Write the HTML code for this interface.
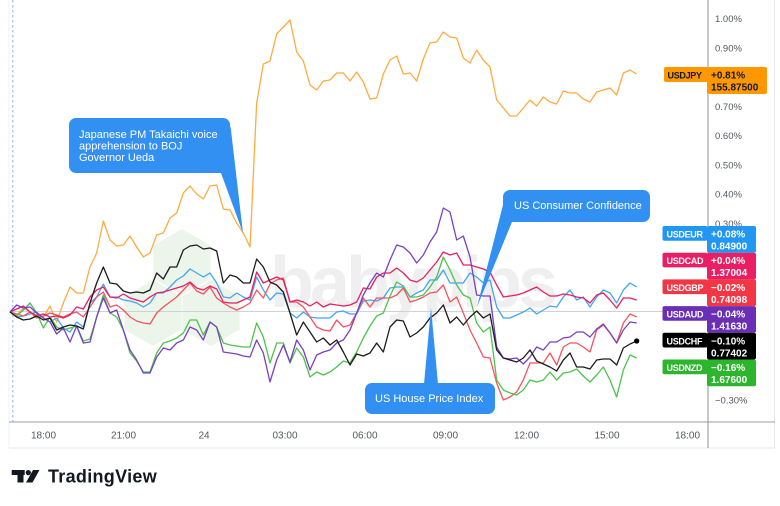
<!DOCTYPE html>
<html><head><meta charset="utf-8"><style>
html,body{margin:0;padding:0;background:#fff;width:780px;height:506px;overflow:hidden}
svg{display:block}
text{font-family:"Liberation Sans",sans-serif}
</style></head><body>
<svg width="780" height="506" viewBox="0 0 780 506" xmlns="http://www.w3.org/2000/svg">
<rect width="780" height="506" fill="#fff"/>
<!-- chart frame -->
<line x1="9" y1="448" x2="775" y2="448" stroke="#e6e8ee"/>
<line x1="774.5" y1="0" x2="774.5" y2="448" stroke="#e6e8ee"/>
<line x1="9" y1="0" x2="9" y2="448" stroke="#eef0f4"/>
<!-- watermark -->
<g fill="#ecf5ea">
<polygon points="182,229 210.6,245.5 210.6,278.5 182,295 153.4,278.5 153.4,245.5"/>
<polygon points="153,280 181.6,296.5 181.6,329.5 153,346 124.4,329.5 124.4,296.5"/>
<polygon points="211,280 239.6,296.5 239.6,329.5 211,346 182.4,329.5 182.4,296.5"/>
</g>
<text x="270" y="307" font-size="72" font-weight="bold" letter-spacing="-4" fill="#efefef">babypips</text>
<!-- zero line -->
<line x1="10" y1="311.5" x2="708" y2="311.5" stroke="#cfd1d6" stroke-width="1"/>
<!-- session dotted line -->
<line x1="12.7" y1="0" x2="12.7" y2="422" stroke="#b3c9f2" stroke-width="1.5" stroke-dasharray="2.5 2.5"/>
<!-- axes -->
<line x1="9" y1="422" x2="775" y2="422" stroke="#9a9ca5"/>
<line x1="708" y1="0" x2="708" y2="448" stroke="#8f929b"/>
<!-- y labels -->
<g font-size="9.5" fill="#555862">
<text x="715" y="22">1.00%</text>
<text x="715" y="51.3">0.90%</text>
<text x="715" y="110">0.70%</text>
<text x="715" y="139">0.60%</text>
<text x="715" y="168.3">0.50%</text>
<text x="715" y="197.3">0.40%</text>
<text x="715" y="227">0.30%</text>
<text x="715" y="403.6">−0.30%</text>
</g>
<!-- x labels -->
<g font-size="10" fill="#555862" text-anchor="middle">
<text x="43.5" y="438.5">18:00</text>
<text x="123.5" y="438.5">21:00</text>
<text x="204" y="438.5">24</text>
<text x="285" y="438.5">03:00</text>
<text x="365" y="438.5">06:00</text>
<text x="445.5" y="438.5">09:00</text>
<text x="526.5" y="438.5">12:00</text>
<text x="607" y="438.5">15:00</text>
<text x="687.5" y="438.5">18:00</text>
</g>
<!-- series -->
<g transform="translate(10,0) scale(6.6667,1)" fill="none" stroke-width="1.3" stroke-linejoin="round">
<polyline vector-effect="non-scaling-stroke" stroke="#ffab40" points="0,312 1,315 2,308 3,312 4,315 5,317 6,306 7,322 8,303 9,287 10,293 11,293 12,267 13,253 14,221 15,240 16,246 17,245 18,236 19,247 20,257 21,253 22,235 23,233 24,218 25,213 26,193 27,186 28,194 29,199 30,186 31,185 32,209 33,210 34,223 35,233 36,247 37,103 38,64 39,61 40,34 41,27 42,20 43,52 44,61 45,85 46,90 47,81 48,80 49,73 50,73 51,81 52,72 53,82 54,99 55,98 56,74 57,60 58,56 59,74 60,73 61,81 62,59 63,43 64,42 65,32 66,37 67,38 68,58 69,63 70,50 71,60 72,67 73,100 74,108 75,116 76,116 77,108 78,100 79,106 80,97 81,102 82,104 83,91 84,93 85,93 86,99 87,102 88,92 89,90 90,88 91,95 92,73 93,70 94,74"/>
<polyline vector-effect="non-scaling-stroke" stroke="#42a5f5" points="0,312 1,317 2,316 3,314 4,312 5,318 6,322 7,318 8,328 9,332 10,322 11,327 12,303 13,297 14,284 15,297 16,297 17,300 18,301 19,303 20,307 21,303 22,293 23,293 24,287 25,280 26,276 27,269 28,273 29,277 30,273 31,283 32,297 33,298 34,293 35,297 36,300 37,277 38,290 39,300 40,293 41,294 42,313 43,318 44,312 45,317 46,318 47,318 48,318 49,312 50,311 51,314 52,314 53,301 54,300 55,301 56,298 57,288 58,287 59,287 60,297 61,293 62,290 63,280 64,280 65,270 66,283 67,283 68,283 69,273 70,277 71,283 72,280 73,307 74,318 75,318 76,315 77,312 78,308 79,314 80,310 81,306 82,307 83,297 84,290 85,300 86,297 87,307 88,297 89,290 90,293 91,303 92,290 93,283 94,287"/>
<polyline vector-effect="non-scaling-stroke" stroke="#f7525f" points="0,312 1,314 2,316 3,312 4,318 5,316 6,313 7,315 8,317 9,314 10,312 11,317 12,307 13,297 14,292 15,307 16,305 17,310 18,317 19,321 20,323 21,324 22,313 23,307 24,302 25,297 26,290 27,283 28,291 29,294 30,287 31,298 32,303 33,307 34,310 35,307 36,303 37,290 38,298 39,284 40,280 41,278 42,302 43,302 44,307 45,317 46,327 47,330 48,331 49,320 50,327 51,325 52,313 53,298 54,307 55,298 56,298 57,298 58,295 59,288 60,302 61,300 62,297 63,293 64,292 65,285 66,302 67,297 68,313 69,330 70,343 71,357 72,358 73,383 74,400 75,397 76,392 77,380 78,363 79,363 80,363 81,353 82,365 83,347 84,343 85,343 86,347 87,352 88,330 89,325 90,333 91,343 92,323 93,314 94,317"/>
<polyline vector-effect="non-scaling-stroke" stroke="#e91e63" points="0,312 1,309 2,306 3,312 4,316 5,314 6,317 7,316 8,318 9,315 10,307 11,309 12,297 13,290 14,287 15,297 16,298 17,294 18,298 19,300 20,302 21,297 22,293 23,292 24,290 25,288 26,286 27,282 28,288 29,290 30,286 31,289 32,302 33,303 34,303 35,300 36,297 37,272 38,283 39,280 40,277 41,280 42,302 43,300 44,302 45,306 46,302 47,307 48,304 49,305 50,306 51,305 52,302 53,288 54,289 55,277 56,273 57,273 58,268 59,273 60,280 61,282 62,278 63,270 64,262 65,252 66,255 67,253 68,265 69,265 70,267 71,269 72,272 73,285 74,297 75,296 76,295 77,293 78,290 79,287 80,292 81,296 82,296 83,294 84,295 85,297 86,298 87,303 88,295 89,293 90,300 91,308 92,298 93,298 94,300"/>
<polyline vector-effect="non-scaling-stroke" stroke="#4bc44b" points="0,312 1,316 2,310 3,303 4,313 5,328 6,317 7,327 8,330 9,328 10,326 11,341 12,339 13,317 14,295 15,313 16,317 17,330 18,353 19,361 20,372 21,372 22,353 23,343 24,341 25,338 26,333 27,320 28,320 29,335 30,322 31,327 32,343 33,345 34,346 35,347 36,347 37,323 38,337 39,363 40,343 41,343 42,363 43,348 44,357 45,377 46,372 47,375 48,372 49,367 50,361 51,363 52,352 53,338 54,326 55,316 56,313 57,296 58,282 59,286 60,297 61,297 62,295 63,287 64,277 65,257 66,270 67,285 68,295 69,298 70,323 71,332 72,327 73,380 74,390 75,393 76,395 77,390 78,380 79,382 80,380 81,372 82,380 83,373 84,372 85,369 86,376 87,382 88,375 89,367 90,380 91,397 92,370 93,355 94,358"/>
<polyline vector-effect="non-scaling-stroke" stroke="#7b3fc4" points="0,312 1,305 2,308 3,307 4,313 5,318 6,322 7,334 8,328 9,342 10,326 11,343 12,342 13,317 14,298 15,313 16,310 17,330 18,350 19,360 20,373 21,373 22,357 23,348 24,350 25,343 26,340 27,327 28,330 29,340 30,322 31,327 32,352 33,353 34,354 35,356 36,357 37,340 38,353 39,382 40,360 41,345 42,362 43,340 44,350 45,370 46,355 47,352 48,350 49,343 50,340 51,330 52,313 53,295 54,283 55,273 56,277 57,260 58,245 59,247 60,253 61,263 62,255 63,242 64,232 65,208 66,212 67,240 68,236 69,257 70,295 71,296 72,296 73,347 74,358 75,359 76,358 77,364 78,357 79,347 80,350 81,342 82,342 83,338 84,337 85,332 86,332 87,337 88,329 89,324 90,333 91,343 92,330 93,322 94,323"/>
<polyline vector-effect="non-scaling-stroke" stroke="#1c1c1c" points="0,312 1,317 2,320 3,319 4,316 5,320 6,318 7,330 8,327 9,325 10,326 11,329 12,303 13,283 14,267 15,283 16,284 17,291 18,293 19,292 20,293 21,290 22,273 23,279 24,267 25,267 26,250 27,246 28,245 29,249 30,248 31,251 32,283 33,275 34,277 35,283 36,283 37,259 38,267 39,282 40,285 41,292 42,313 43,335 44,322 45,332 46,342 47,338 48,345 49,340 50,352 51,365 52,354 53,356 54,353 55,343 56,352 57,327 58,320 59,321 60,337 61,333 62,327 63,318 64,313 65,305 66,323 67,317 68,325 69,317 70,311 71,318 72,314 73,350 74,358 75,360 76,362 77,358 78,350 79,361 80,364 81,367 82,371 83,360 84,353 85,367 86,367 87,369 88,360 89,359 90,359 91,365 92,348 93,344 94,341"/>
</g>
<circle cx="636.7" cy="341" r="2.6" fill="#000"/>
<!-- callouts -->
<g fill="#3190f2">
<rect x="69" y="118" width="161" height="55" rx="7"/>
<polygon points="221,173 230.5,126 243,233"/>
<rect x="503" y="190" width="147" height="32" rx="7"/>
<polygon points="503,205 512,222 477,307"/>
<rect x="365" y="383" width="130" height="31" rx="7"/>
<polygon points="424,384 438,384 431,308"/>
</g>
<g fill="#fff" font-size="11">
<text x="79" y="138">Japanese PM Takaichi voice</text>
<text x="79" y="149.5">apprehension to BOJ</text>
<text x="79" y="161">Governor Ueda</text>
<text x="514" y="209">US Consumer Confidence</text>
<text x="375" y="402">US House Price Index</text>
</g>
<!-- price tags -->
<g font-weight="bold">
<rect x="664" y="67" width="44" height="15" rx="2" fill="#ff9800"/>
<rect x="707" y="67" width="60" height="27" rx="2" fill="#ff9800"/>
<text x="667.5" y="78.5" font-size="9" letter-spacing="-0.3" fill="#131722">USDJPY</text>
<text x="711" y="78.5" font-size="10" fill="#131722">+0.81%</text>
<text x="711" y="90.5" font-size="10" fill="#131722">155.87500</text>

<rect x="662.5" y="226" width="45" height="14.7" rx="2" fill="#2196f3"/>
<rect x="707" y="226" width="49" height="26.7" rx="2" fill="#2196f3"/>
<text x="666.5" y="237.5" font-size="9" letter-spacing="-0.3" fill="#fff">USDEUR</text>
<text x="711" y="237.5" font-size="10" fill="#fff">+0.08%</text>
<text x="711" y="249.5" font-size="10" fill="#fff">0.84900</text>

<rect x="662.5" y="252.7" width="45" height="14.7" rx="2" fill="#e91e63"/>
<rect x="707" y="252.7" width="49" height="26.7" rx="2" fill="#e91e63"/>
<text x="666.5" y="264.2" font-size="9" letter-spacing="-0.3" fill="#fff">USDCAD</text>
<text x="711" y="264.2" font-size="10" fill="#fff">+0.04%</text>
<text x="711" y="276.2" font-size="10" fill="#fff">1.37004</text>

<rect x="662.5" y="279.4" width="45" height="14.7" rx="2" fill="#f23645"/>
<rect x="707" y="279.4" width="49" height="26.7" rx="2" fill="#f23645"/>
<text x="666.5" y="290.9" font-size="9" letter-spacing="-0.3" fill="#fff">USDGBP</text>
<text x="711" y="290.9" font-size="10" fill="#fff">−0.02%</text>
<text x="711" y="302.9" font-size="10" fill="#fff">0.74098</text>

<rect x="662.5" y="306.1" width="45" height="14.7" rx="2" fill="#6a2fb5"/>
<rect x="707" y="306.1" width="49" height="26.7" rx="2" fill="#6a2fb5"/>
<text x="666.5" y="317.6" font-size="9" letter-spacing="-0.3" fill="#fff">USDAUD</text>
<text x="711" y="317.6" font-size="10" fill="#fff">−0.04%</text>
<text x="711" y="329.6" font-size="10" fill="#fff">1.41630</text>

<rect x="662.5" y="332.8" width="45" height="14.7" rx="2" fill="#000"/>
<rect x="707" y="332.8" width="49" height="26.7" rx="2" fill="#000"/>
<text x="666.5" y="344.3" font-size="9" letter-spacing="-0.3" fill="#fff">USDCHF</text>
<text x="711" y="344.3" font-size="10" fill="#fff">−0.10%</text>
<text x="711" y="356.3" font-size="10" fill="#fff">0.77402</text>

<rect x="662.5" y="359.5" width="45" height="14.7" rx="2" fill="#2db52d"/>
<rect x="707" y="359.5" width="49" height="26.7" rx="2" fill="#2db52d"/>
<text x="666.5" y="371" font-size="9" letter-spacing="-0.3" fill="#fff">USDNZD</text>
<text x="711" y="371" font-size="10" fill="#fff">−0.16%</text>
<text x="711" y="383" font-size="10" fill="#fff">1.67600</text>
</g>
<!-- TradingView logo -->
<g fill="#131722">
<rect x="11.7" y="470" width="13" height="5"/>
<rect x="17.5" y="470" width="6" height="12.5"/>
<circle cx="28.3" cy="472.6" r="2.6"/>
<polygon points="33,470 39.5,470 32.5,482.5 26,482.5"/>
</g>
<text x="48" y="482.5" font-size="18" font-weight="bold" letter-spacing="0.3" fill="#131722">TradingView</text>
</svg>
</body></html>
